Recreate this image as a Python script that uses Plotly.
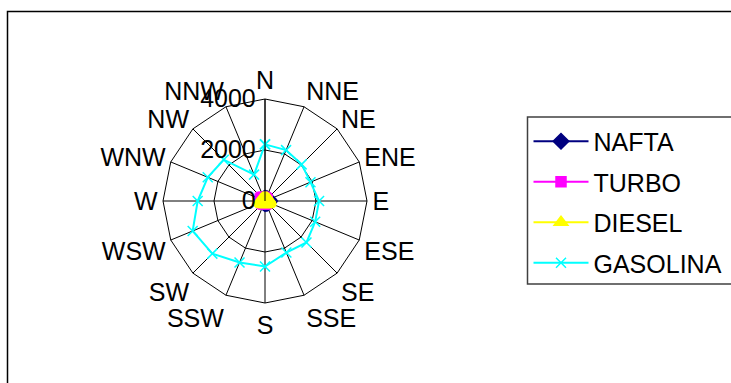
import plotly.graph_objects as go

# Wind-direction sectors, clockwise from north
directions = ["N", "NNE", "NE", "ENE", "E", "ESE", "SE", "SSE",
              "S", "SSW", "SW", "WSW", "W", "WNW", "NW", "NNW"]

# Series values per direction
nafta = [90, 100, 120, 150, 180, 150, 120, 100, 90, 80, 80, 80, 90, 90, 90, 90]
turbo = [120, 110, 100, 90, 90, 90, 100, 110, 120, 130, 140, 150, 180, 200, 200, 160]
diesel = [110, 120, 140, 160, 170, 170, 160, 150, 140, 150, 160, 170, 170, 160, 140, 120]
gasolina = [2220, 2160, 2030, 1930, 2120, 2130, 2300, 2190,
            2570, 2610, 2920, 3070, 2640, 2430, 2290, 1120]

radial_ticks = [0, 2000, 4000]

W, H = 731, 383
FONT = "Liberation Sans, Arial, sans-serif"
FS = 25


def closed(vals):
    return list(vals) + [vals[0]]


theta = closed(directions)

series = [
    ("NAFTA", nafta, "#000080", "diamond", 12, 2),
    ("TURBO", turbo, "#FF00FF", "square", 10, 2),
    ("DIESEL", diesel, "#FFFF00", "triangle-up", 12, 2),
    ("GASOLINA", gasolina, "#00FFFF", "x-thin", 10, 2),
]

fig = go.Figure()
for name, vals, color, symbol, msize, lw in series:
    fig.add_trace(go.Scatterpolar(
        r=closed(vals), theta=theta, name=name, mode="lines+markers",
        line=dict(color=color, width=lw),
        marker=dict(symbol=symbol, size=msize, color=color,
                    line=dict(color=color, width=1.5)),
        legendgroup=name,
    ))

# Polar area: centre (265, 201), outer radius ~102 px
cx, cy, rad = 265, 201, 102
fig.update_layout(
    width=W, height=H,
    margin=dict(l=0, r=0, t=0, b=0),
    paper_bgcolor="white", plot_bgcolor="white",
    font=dict(family=FONT, size=FS, color="black"),
    polar=dict(
        domain=dict(x=[(cx - rad) / W, (cx + rad) / W],
                    y=[(H - cy - rad) / H, (H - cy + rad) / H]),
        bgcolor="white",
        gridshape="linear",
        angularaxis=dict(
            direction="clockwise", rotation=90,
            categoryorder="array", categoryarray=directions,
            showgrid=True, gridcolor="black", gridwidth=1,
            showline=True, linecolor="black", linewidth=1,
            ticks="", tickfont=dict(size=FS, family=FONT, color="black"),
        ),
        radialaxis=dict(
            range=[0, 4000], tickvals=radial_ticks,
            ticktext=[str(v) for v in radial_ticks],
            angle=90, side="counterclockwise", tickangle=90,
            showgrid=True, gridcolor="black", gridwidth=1,
            showline=True, linecolor="black", linewidth=1,
            ticks="", tickfont=dict(size=FS, family=FONT, color="black"),
        ),
    ),
    legend=dict(
        x=528.5 / W, y=1 - 118.5 / H, xanchor="left", yanchor="top",
        bgcolor="rgba(0,0,0,0)", borderwidth=0,
        font=dict(size=FS, family=FONT, color="black"),
        itemwidth=55, tracegroupgap=5, traceorder="grouped",
    ),
    shapes=[
        # chart-area frame, open to the right and bottom
        dict(type="rect", xref="paper", yref="paper",
             x0=7.5 / W, x1=1.05, y0=-0.05, y1=1 - 11.5 / H,
             line=dict(color="black", width=1.5),
             fillcolor="rgba(0,0,0,0)", layer="below"),
        # legend box, running past the right edge
        dict(type="rect", xref="paper", yref="paper",
             x0=527.5 / W, x1=1.05, y0=1 - 284 / H, y1=1 - 117 / H,
             line=dict(color="#404040", width=1.5),
             fillcolor="rgba(0,0,0,0)", layer="below"),
    ],
)

fig.write_html("out.html")
